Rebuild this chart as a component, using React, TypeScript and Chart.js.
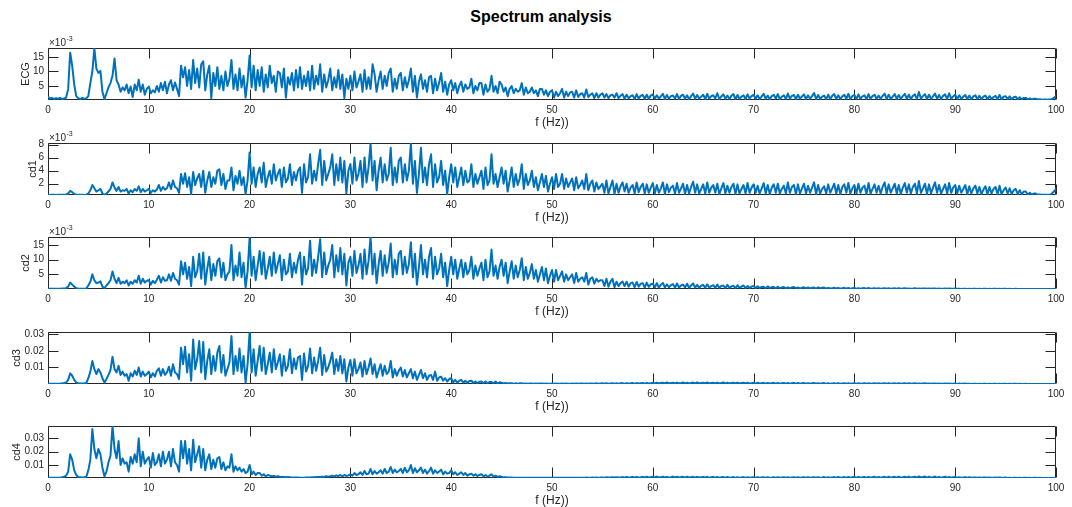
import React, { useEffect, useRef } from "react";
import { Chart, registerables } from "chart.js";

Chart.register(...registerables);

// Frequency bin spacing (Hz) of the stored spectra, bins run 0..100 Hz
const FREQ_STEP = 0.2;
const X_TICKS = [0, 10, 20, 30, 40, 50, 60, 70, 80, 90, 100];

// Spectral magnitudes, in units of 1e-3 (5 bins per Hz)
const ECG = [
  1.2,0.7,0.9,0.5,0.8, 0.6,0.9,0.5,0.7,1.0, 4.0,16.5,12.0,5.5,1.5, 0.8,0.5,0.9,0.6,0.7, 1.5,6.0,10.0,18.0,11.0,
  9.5,10.2,3.0,0.4,2.5, 4.5,6.0,8.5,14.5,7.0, 5.5,3.0,4.5,3.5,5.5, 2.5,4.8,1.2,5.5,3.5, 7.2,3.0,5.5,2.0,4.0,
  4.8,2.5,3.5,2.8,5.0, 3.0,6.0,3.5,6.5,2.5, 5.5,7.0,3.5,6.2,4.0, 1.5,12.0,8.0,11.5,5.0, 10.5,4.0,14.0,6.0,11.0,
  4.5,12.5,13.5,3.5,9.0, 12.0,0.8,9.5,5.0,11.5, 4.0,8.5,3.5,10.0,5.0, 7.5,14.0,4.0,9.0,3.5, 11.0,4.5,8.5,1.0,7.0,
  15.5,4.5,12.0,3.5,10.5, 5.0,11.5,3.0,9.0,4.5, 12.0,6.0,8.5,3.0,10.0, 9.5,4.5,11.0,1.0,8.0, 5.5,9.5,3.5,10.5,4.5,
  11.5,4.0,8.5,5.0,10.0, 3.5,12.0,4.0,8.5,5.5, 12.5,3.0,9.0,4.5,7.0, 11.0,3.5,8.0,4.5,10.5, 4.0,9.0,0.8,7.5,4.0,
  8.5,3.5,10.0,4.5,6.5, 9.0,3.0,10.5,4.0,8.0, 4.0,12.5,9.0,3.0,7.0, 10.0,4.0,8.5,5.0,9.5, 11.0,3.0,7.5,4.0,8.5,
  9.5,3.5,8.0,4.5,7.0, 11.0,3.0,8.5,1.0,6.5, 9.0,4.0,7.0,3.0,8.0, 8.5,2.5,7.5,3.5,6.0, 9.5,3.0,6.5,2.0,5.5,
  7.0,3.5,6.0,2.5,5.0, 6.5,3.0,5.5,4.0,4.5, 7.5,2.5,5.0,3.5,6.0, 6.0,2.0,5.5,3.0,4.0, 8.5,3.0,5.0,2.5,6.5,
  5.5,3.0,4.5,1.5,4.0, 5.0,2.5,4.0,3.0,3.5, 6.0,2.0,4.5,2.5,3.0, 4.5,2.5,3.5,1.5,4.0, 4.0,2.0,3.5,1.5,3.0,
  3.5,1.0,3.0,1.5,2.5, 4.0,1.0,3.0,1.5,2.8, 3.0,1.0,3.5,1.2,2.2, 2.5,1.0,3.8,1.2,2.0, 2.5,0.8,2.5,1.0,2.0,
  2.5,1.0,2.2,0.8,1.8, 2.0,1.0,2.5,0.8,1.6, 2.2,0.6,2.0,0.8,1.5, 1.8,0.5,2.2,0.7,1.6, 1.9,0.6,2.0,0.5,1.7,
  2.1,0.6,1.8,0.7,1.4, 2.3,0.5,1.9,0.6,1.5, 1.7,0.7,2.2,0.5,1.6, 2.0,0.6,1.8,0.4,1.5, 2.4,0.6,1.9,0.7,1.3,
  2.0,0.5,2.3,0.6,1.5, 1.8,0.7,2.5,0.5,1.4, 2.1,0.6,1.7,0.5,1.6, 2.2,0.4,1.9,0.6,1.3, 1.8,0.5,2.1,0.7,1.5,
  2.0,0.6,1.8,0.5,1.4, 2.3,0.6,1.7,0.4,1.5, 2.0,0.7,2.2,0.5,1.3, 1.8,0.5,2.4,0.6,1.6, 1.9,0.5,2.0,0.6,1.4,
  2.1,0.5,1.8,0.6,1.5, 2.6,0.5,1.9,0.6,1.3, 1.7,0.4,2.0,0.5,1.6, 2.2,0.6,1.8,0.5,1.4, 2.0,0.6,2.3,0.5,1.5,
  1.9,0.5,2.1,0.6,1.4, 1.8,0.4,2.2,0.6,1.5, 2.0,0.5,1.7,0.6,1.6, 2.4,0.5,2.0,0.6,1.3, 2.2,0.6,1.9,0.5,1.5,
  2.3,0.6,2.0,0.5,1.6, 2.1,0.5,2.9,0.6,1.5, 2.2,0.5,2.0,0.6,1.4, 2.4,0.6,1.9,0.5,1.6, 2.1,0.5,2.5,0.6,1.4,
  2.0,0.5,1.8,0.6,1.3, 1.9,0.5,1.7,0.4,1.4, 1.8,0.5,1.6,0.5,1.3, 1.7,0.4,1.5,0.5,1.2, 1.6,0.5,1.9,0.4,1.3,
  1.5,0.5,1.4,0.4,1.1, 1.3,0.4,1.1,0.4,0.9, 0.9,0.4,0.7,0.35,0.6, 0.6,0.35,0.4,0.3,0.35, 0.35,0.3,0.3,0.5,0.9,
  1.6,
];

const CD1 = [
  0.3,0.28,0.3,0.29,0.28, 0.3,0.29,0.32,0.3,0.35, 0.5,0.9,0.7,0.45,0.32, 0.3,0.29,0.3,0.28,0.32, 0.5,1.0,1.8,1.3,0.8,
  1.0,1.2,0.5,0.3,0.5, 0.8,1.2,2.2,1.4,0.9, 1.5,0.8,1.0,0.9,1.2, 0.5,1.0,0.7,1.2,0.9, 1.6,0.7,1.2,0.8,1.0,
  1.2,0.6,1.0,0.8,1.1, 1.8,0.9,1.5,1.1,1.3, 2.2,1.2,2.5,1.5,1.3, 0.6,3.5,2.0,3.6,1.5, 3.0,0.4,3.8,1.8,2.8,
  3.5,1.5,4.0,0.6,2.5, 3.8,1.5,3.0,2.0,4.0, 4.2,1.8,3.5,1.2,2.5, 2.5,4.5,1.0,3.2,2.0, 4.0,1.8,3.0,0.4,2.5,
  6.8,2.0,4.5,1.5,3.5, 4.5,2.2,5.2,1.5,3.0, 4.0,2.0,5.0,2.5,3.5, 4.2,1.5,4.5,2.2,2.8, 5.0,1.8,3.8,2.5,4.0,
  4.5,0.6,5.0,2.2,3.0, 6.5,2.0,4.0,2.5,5.0, 7.2,1.8,5.5,2.5,3.5, 4.5,6.5,1.8,5.0,2.5, 6.0,2.2,5.5,0.5,4.0,
  5.0,2.0,6.0,2.5,3.5, 5.5,1.5,6.0,2.2,4.5, 8.2,2.5,5.5,1.0,4.0, 6.0,2.2,5.0,2.5,3.5, 7.5,1.8,4.5,2.2,5.5,
  6.0,2.2,5.0,2.5,4.0, 8.2,2.0,5.5,0.6,3.5, 7.5,2.2,4.5,1.8,5.0, 6.5,1.5,5.0,2.2,3.0, 5.5,1.8,4.0,0.4,3.0,
  5.0,2.2,4.5,1.5,3.0, 4.5,1.8,4.0,2.2,2.5, 5.0,1.5,3.5,2.0,3.0, 4.0,1.2,4.5,1.8,2.5, 6.5,2.0,3.5,1.5,3.0,
  4.5,2.0,4.0,0.8,2.5, 4.5,1.5,3.5,1.8,2.8, 5.0,1.2,3.5,1.8,2.5, 4.0,1.5,3.0,1.0,2.2, 3.5,1.5,3.2,0.8,2.0,
  3.0,1.2,3.5,1.5,2.0, 3.5,1.2,2.8,1.5,2.2, 2.8,1.0,3.0,1.3,1.8, 2.5,1.2,3.5,1.0,2.0, 2.5,0.8,2.2,1.2,1.6,
  2.0,0.6,2.5,0.5,1.5, 2.5,0.4,2.0,0.6,1.6, 2.2,0.8,2.0,0.6,1.4, 1.8,0.5,2.2,0.7,1.5, 2.0,0.5,1.9,0.6,1.4,
  2.1,0.5,1.8,0.6,1.3, 2.2,0.4,1.9,0.7,1.4, 1.7,0.5,2.1,0.6,1.3, 2.0,0.4,1.8,0.5,1.5, 2.3,0.6,1.9,0.5,1.2,
  1.9,0.5,2.2,0.6,1.4, 1.8,0.6,2.0,0.4,1.3, 2.1,0.5,1.7,0.6,1.5, 2.0,0.4,1.9,0.5,1.2, 1.8,0.5,2.1,0.6,1.4,
  1.9,0.6,1.7,0.5,1.3, 2.1,0.5,1.8,0.4,1.4, 1.9,0.6,2.0,0.5,1.2, 1.7,0.5,2.2,0.6,1.5, 1.8,0.4,1.9,0.5,1.3,
  2.0,0.5,1.7,0.6,1.4, 2.2,0.4,1.8,0.5,1.2, 1.6,0.5,1.9,0.6,1.3, 2.0,0.5,1.8,0.4,1.5, 1.9,0.6,2.1,0.5,1.3,
  1.8,0.5,2.0,0.6,1.4, 1.7,0.4,2.1,0.5,1.2, 1.9,0.6,1.7,0.5,1.5, 2.2,0.5,1.9,0.6,1.3, 2.0,0.5,1.8,0.4,1.4,
  2.1,0.6,1.9,0.5,1.5, 2.0,0.5,2.4,0.6,1.3, 2.0,0.4,1.9,0.5,1.4, 2.2,0.6,1.8,0.5,1.2, 1.9,0.5,2.1,0.6,1.4,
  1.8,0.5,1.7,0.6,1.2, 1.8,0.4,1.6,0.5,1.3, 1.7,0.5,1.5,0.4,1.1, 1.6,0.4,1.5,0.5,1.2, 1.5,0.4,1.7,0.4,1.0,
  1.4,0.5,1.3,0.4,1.0, 1.2,0.4,1.0,0.4,0.8, 0.8,0.35,0.6,0.32,0.5, 0.5,0.3,0.35,0.3,0.3, 0.3,0.3,0.3,0.5,0.8,
  1.2,
];

const CD2 = [
  0.1,0.05,0.08,0.06,0.05, 0.08,0.1,0.15,0.2,0.3, 0.8,2.2,1.5,0.8,0.3, 0.15,0.1,0.1,0.12,0.2, 1.2,2.5,5.0,3.0,2.0,
  2.2,2.6,0.8,0.3,1.2, 2.0,3.0,6.0,3.5,2.0, 3.8,1.8,2.5,2.0,3.0, 1.2,2.5,1.8,3.0,2.2, 4.5,1.8,3.5,2.2,2.8,
  3.0,1.5,2.8,2.0,3.2, 4.5,2.2,4.0,2.8,3.0, 5.0,2.8,5.5,3.5,3.0, 1.5,9.5,5.0,9.0,3.5, 7.5,1.0,11.0,4.0,6.0,
  12.0,3.5,12.5,1.5,7.0, 11.0,3.0,8.5,4.5,9.5, 10.5,4.0,9.0,3.0,5.0, 6.0,15.0,3.0,8.0,4.5, 12.5,4.0,9.0,0.5,6.0,
  17.5,4.5,11.0,3.0,8.0, 13.0,5.0,12.5,3.5,7.0, 11.0,4.5,12.5,5.5,8.5, 11.5,3.0,10.0,5.0,6.0, 12.0,4.0,9.0,5.5,10.0,
  12.5,1.5,11.0,5.0,7.0, 16.5,4.5,10.0,5.5,11.0, 17.0,4.0,12.5,5.0,8.0, 10.0,15.0,4.0,11.5,6.0, 14.0,5.0,12.0,1.2,9.0,
  11.0,4.5,13.0,5.5,8.0, 12.0,3.5,13.5,5.0,9.5, 17.8,5.0,12.0,2.0,8.5, 13.0,4.5,11.5,5.5,9.0, 15.5,4.0,10.0,5.0,12.0,
  13.0,5.0,11.0,5.5,8.5, 16.0,4.0,12.0,1.5,7.5, 15.0,5.0,10.0,4.0,11.0, 14.0,3.5,11.0,5.0,7.0, 12.0,4.0,9.0,1.0,6.5,
  11.0,5.0,10.0,3.5,7.0, 10.0,4.0,9.0,5.0,6.5, 11.0,3.5,8.0,4.5,7.0, 9.0,3.0,10.0,4.0,6.0, 13.5,4.5,8.0,3.5,7.5,
  10.0,4.5,9.0,2.0,6.0, 9.5,3.5,8.0,4.0,6.5, 10.5,3.0,7.5,3.5,5.5, 8.5,3.5,6.5,2.5,5.0, 7.5,3.0,7.0,2.0,4.5,
  6.5,2.5,6.5,3.0,4.5, 6.0,2.5,5.0,3.0,4.0, 5.0,2.0,5.5,2.5,3.5, 4.0,2.5,5.5,1.5,3.5, 4.0,1.8,3.5,2.5,3.0,
  3.0,1.0,3.5,0.8,2.5, 3.5,0.6,2.5,1.0,2.0, 2.5,1.0,2.5,0.8,2.0, 2.2,0.6,2.4,0.8,1.8, 2.0,0.5,2.2,0.7,1.6,
  1.8,0.6,2.0,0.5,1.4, 2.1,0.5,1.6,0.6,1.3, 1.7,0.4,1.9,0.5,1.2, 1.5,0.5,1.8,0.4,1.2, 1.9,0.5,1.4,0.4,1.1,
  1.4,0.4,1.6,0.5,1.0, 1.3,0.4,1.5,0.4,1.0, 1.2,0.3,1.4,0.4,0.9, 1.1,0.3,1.3,0.4,0.8, 1.2,0.3,1.0,0.3,0.8,
  1.0,0.3,0.9,0.3,0.7, 0.8,0.25,0.9,0.3,0.6, 0.7,0.2,0.8,0.25,0.5, 0.7,0.2,0.6,0.2,0.5, 0.7,0.2,0.5,0.2,0.4,
  0.6,0.2,0.5,0.2,0.4, 0.5,0.15,0.6,0.2,0.4, 0.5,0.15,0.4,0.15,0.3, 0.45,0.15,0.4,0.1,0.3, 0.4,0.1,0.35,0.1,0.25,
  0.35,0.1,0.3,0.1,0.25, 0.3,0.1,0.35,0.1,0.2, 0.3,0.08,0.25,0.1,0.2, 0.3,0.08,0.25,0.08,0.2, 0.25,0.08,0.3,0.08,0.2,
  0.25,0.08,0.2,0.08,0.15, 0.25,0.06,0.2,0.06,0.15, 0.2,0.06,0.2,0.06,0.15, 0.18,0.05,0.2,0.05,0.12, 0.15,0.05,0.18,0.05,0.1,
  0.15,0.05,0.12,0.04,0.1, 0.12,0.04,0.1,0.04,0.08, 0.1,0.03,0.1,0.03,0.07, 0.08,0.03,0.08,0.03,0.06, 0.08,0.03,0.06,0.02,0.05,
  0.06,0.02,0.05,0.02,0.04, 0.05,0.02,0.04,0.02,0.03, 0.04,0.02,0.03,0.02,0.03, 0.03,0.02,0.03,0.02,0.02, 0.03,0.02,0.03,0.04,0.06,
  0.1,
];

const CD3 = [
  0.2,0.15,0.2,0.18,0.15, 0.2,0.25,0.4,0.6,0.9, 2.5,6.5,5.0,2.5,1.0, 0.4,0.3,0.3,0.4,0.6, 3.5,7.5,14.0,9.0,6.0,
  9.0,7.0,3.5,0.8,3.0, 5.5,8.5,16.5,9.0,7.0, 11.0,5.5,7.5,5.0,6.0, 2.0,6.5,4.5,8.0,5.5, 10.0,4.5,7.5,5.0,6.0,
  7.5,4.0,6.5,4.5,8.0, 9.5,5.0,9.0,5.5,7.0, 10.5,5.0,12.0,7.0,6.0, 3.0,22.0,12.0,22.5,7.0, 18.0,2.0,27.0,9.0,15.0,
  26.0,7.0,25.5,3.0,14.0, 21.0,6.0,17.0,8.0,19.0, 23.0,7.0,17.5,5.0,9.0, 13.0,29.0,6.0,17.0,8.0, 21.5,7.0,17.0,1.0,12.0,
  31.5,7.0,21.0,5.0,14.0, 23.0,8.0,22.0,6.0,12.0, 19.0,7.0,21.0,9.0,13.0, 18.0,5.0,17.0,8.0,11.0, 21.0,6.5,15.5,9.0,16.0,
  17.0,2.5,18.5,7.5,11.0, 21.5,6.5,16.0,8.0,14.0, 22.0,5.5,17.5,7.5,10.0, 14.0,19.0,6.0,15.0,8.0, 17.0,6.5,15.0,1.5,10.0,
  14.5,5.0,15.0,6.5,9.0, 13.0,4.5,14.0,6.0,10.0, 15.5,6.0,12.0,4.0,8.0, 12.0,5.0,11.0,6.0,7.5, 14.0,4.0,9.0,5.0,8.0,
  10.0,4.5,8.5,4.0,6.5, 9.0,3.5,7.5,2.5,5.5, 8.5,3.5,6.5,2.5,5.0, 5.5,2.5,7.5,2.0,4.0, 4.5,2.0,3.5,1.5,3.0,
  3.5,1.0,2.5,0.8,2.0, 2.5,0.8,2.0,0.6,1.8, 2.0,0.6,1.5,0.5,1.4, 1.5,0.5,1.5,0.4,1.2, 1.2,0.4,1.5,0.3,1.0,
  0.8,0.3,0.6,0.3,0.5, 0.5,0.2,0.45,0.2,0.4, 0.4,0.15,0.35,0.15,0.3, 0.3,0.15,0.3,0.12,0.25, 0.3,0.12,0.25,0.12,0.2,
  0.25,0.1,0.25,0.1,0.2, 0.25,0.1,0.3,0.1,0.2, 0.3,0.12,0.3,0.12,0.25, 0.35,0.12,0.3,0.15,0.25, 0.35,0.15,0.4,0.15,0.3,
  0.4,0.15,0.45,0.2,0.35, 0.5,0.2,0.45,0.2,0.4, 0.55,0.2,0.5,0.25,0.4, 0.6,0.2,0.55,0.25,0.45, 0.6,0.25,0.7,0.25,0.5,
  0.7,0.3,0.8,0.3,0.6, 0.75,0.3,0.9,0.3,0.6, 0.8,0.3,0.85,0.35,0.6, 0.9,0.3,0.8,0.35,0.65, 0.85,0.3,0.9,0.3,0.6,
  0.8,0.3,0.9,0.35,0.6, 0.8,0.3,0.85,0.3,0.6, 0.9,0.3,0.8,0.3,0.55, 0.75,0.3,0.85,0.3,0.55, 0.8,0.3,0.75,0.25,0.5,
  0.7,0.25,0.75,0.3,0.5, 0.7,0.25,0.65,0.25,0.5, 0.7,0.25,0.6,0.2,0.45, 0.65,0.25,0.6,0.2,0.45, 0.7,0.25,0.6,0.2,0.4,
  0.6,0.2,0.55,0.2,0.4, 0.6,0.2,0.5,0.2,0.4, 0.55,0.2,0.5,0.2,0.35, 0.5,0.15,0.55,0.2,0.35, 0.5,0.15,0.45,0.15,0.35,
  0.5,0.15,0.45,0.15,0.3, 0.5,0.15,0.4,0.15,0.3, 0.45,0.15,0.4,0.12,0.3, 0.45,0.15,0.4,0.12,0.3, 0.4,0.12,0.45,0.12,0.3,
  0.4,0.12,0.45,0.12,0.3, 0.4,0.12,0.35,0.1,0.25, 0.4,0.12,0.35,0.1,0.25, 0.35,0.1,0.3,0.1,0.2, 0.3,0.1,0.3,0.08,0.2,
  0.3,0.08,0.25,0.08,0.18, 0.25,0.08,0.2,0.06,0.15, 0.2,0.06,0.2,0.06,0.14, 0.18,0.05,0.15,0.05,0.12, 0.15,0.05,0.12,0.05,0.1,
  0.12,0.04,0.1,0.04,0.08, 0.1,0.03,0.08,0.03,0.06, 0.08,0.03,0.06,0.03,0.05, 0.05,0.02,0.05,0.02,0.04, 0.04,0.02,0.04,0.03,0.04,
  0.05,
];

const CD4 = [
  0.5,0.4,0.5,0.45,0.4, 0.5,0.6,0.8,1.2,2.0, 5.0,18.0,14.0,6.0,2.5, 1.0,0.8,0.6,0.8,1.2, 6.0,14.0,37.0,22.0,15.0,
  22.0,18.0,8.0,1.5,5.0, 12.0,17.0,39.0,22.0,15.0, 28.0,10.0,15.0,11.0,12.0, 5.0,16.0,11.0,18.0,12.0, 30.0,9.0,20.0,11.0,14.0,
  16.0,8.0,19.0,10.0,12.0, 18.0,9.0,20.0,11.0,14.0, 20.0,9.0,22.0,12.0,10.0, 5.0,28.0,15.0,28.0,11.0, 22.0,6.0,29.0,12.0,18.0,
  24.0,8.0,22.0,6.0,14.0, 18.0,7.0,14.0,8.0,15.0, 16.0,7.0,12.0,6.0,9.0, 8.0,18.0,5.0,9.0,6.0, 8.0,5.0,7.0,4.0,5.0,
  10.0,3.0,5.0,2.5,4.0, 4.0,2.0,3.0,1.5,2.5, 2.0,1.5,1.8,1.2,1.5, 1.2,1.0,1.0,0.8,0.9, 0.8,0.7,0.6,0.6,0.55,
  0.5,0.5,0.5,0.55,0.6, 0.7,0.8,0.8,0.9,1.0, 1.0,1.2,1.0,1.5,1.2, 1.5,2.0,1.2,2.2,1.6, 2.5,1.5,2.5,1.8,2.2,
  3.0,2.0,4.0,2.5,3.0, 4.5,2.5,5.5,3.0,3.5, 7.0,3.0,5.5,3.5,4.5, 6.0,3.5,7.0,4.0,5.0, 8.5,4.0,6.5,4.5,5.5,
  7.0,4.0,8.0,4.5,6.0, 10.0,4.0,7.5,4.5,6.0, 8.0,4.0,6.5,3.5,5.5, 8.0,3.5,6.0,4.0,5.0, 6.5,3.0,5.0,3.5,4.0,
  6.0,3.0,4.5,2.5,3.5, 4.5,2.5,4.0,2.0,3.0, 3.5,2.0,3.0,1.8,2.5, 3.0,1.5,2.5,1.3,2.0, 3.0,1.2,2.0,1.0,1.5,
  1.2,0.7,0.9,0.6,0.7, 0.6,0.5,0.5,0.45,0.5, 0.45,0.4,0.4,0.4,0.4, 0.4,0.35,0.4,0.35,0.35, 0.35,0.35,0.35,0.35,0.35,
  0.35,0.35,0.4,0.35,0.38, 0.4,0.35,0.4,0.4,0.4, 0.45,0.4,0.5,0.4,0.45, 0.5,0.45,0.55,0.45,0.5, 0.6,0.5,0.65,0.5,0.55,
  0.7,0.5,0.75,0.55,0.6, 0.8,0.55,0.85,0.6,0.7, 0.9,0.6,0.95,0.6,0.75, 1.0,0.6,1.1,0.65,0.8, 1.0,0.6,1.2,0.6,0.85,
  1.1,0.6,1.3,0.6,0.9, 1.2,0.6,1.1,0.6,0.85, 1.3,0.6,1.2,0.6,0.9, 1.1,0.55,1.2,0.6,0.85, 1.1,0.55,1.0,0.55,0.8,
  1.0,0.55,1.1,0.5,0.8, 0.95,0.5,1.0,0.5,0.75, 0.9,0.5,0.95,0.5,0.7, 0.9,0.5,0.85,0.5,0.7, 0.9,0.45,0.85,0.45,0.65,
  0.8,0.45,0.85,0.45,0.65, 0.8,0.45,0.75,0.45,0.6, 0.8,0.45,0.75,0.4,0.6, 0.8,0.45,0.75,0.4,0.6, 0.8,0.4,0.75,0.4,0.6,
  0.8,0.45,0.85,0.45,0.65, 0.8,0.4,0.85,0.45,0.65, 0.9,0.45,0.85,0.45,0.7, 0.9,0.45,0.95,0.5,0.7, 0.9,0.45,1.0,0.5,0.75,
  0.95,0.5,1.0,0.5,0.75, 1.0,0.5,1.05,0.5,0.8, 1.1,0.5,1.0,0.5,0.8, 1.1,0.55,1.2,0.5,0.85, 1.1,0.5,1.2,0.55,0.85,
  1.2,0.55,1.3,0.55,0.9, 1.2,0.55,1.4,0.6,0.95, 1.3,0.55,1.2,0.55,0.9, 1.3,0.55,1.1,0.5,0.85, 1.2,0.5,1.0,0.5,0.8,
  0.9,0.45,0.85,0.45,0.7, 0.8,0.4,0.75,0.4,0.6, 0.7,0.4,0.7,0.4,0.55, 0.65,0.35,0.6,0.35,0.5, 0.6,0.35,0.55,0.35,0.45,
  0.55,0.3,0.5,0.3,0.4, 0.5,0.3,0.45,0.3,0.38, 0.45,0.28,0.4,0.28,0.35, 0.4,0.26,0.35,0.25,0.3, 0.3,0.25,0.3,0.25,0.28,
  0.3,
];

// Y-axis tick values (real units)
const ECG_TICKS = [0.005, 0.01, 0.015];
const CD1_TICKS = [0.002, 0.004, 0.006, 0.008];
const CD2_TICKS = [0.005, 0.01, 0.015];
const CD3_TICKS = [0.01, 0.02, 0.03];
const CD4_TICKS = [0.01, 0.02, 0.03];

const TITLE = "Spectrum analysis";
const X_LABEL = "f (Hz))";

const FONT = "'Liberation Sans', Arial, Helvetica, sans-serif";
const AXIS_COLOR = "#262626";
const LINE_COLOR = "#0072BD";

type PanelCfg = {
  label: string;
  values: number[];
  ticks: number[];
  min: number;
  max: number;
  exponent: boolean;
  top: number;
  yTitlePad: number;
};

const PANELS: PanelCfg[] = [
  { label: "ECG", values: ECG, ticks: ECG_TICKS, min: 0.00017, max: 0.0181, exponent: true, top: 48, yTitlePad: 19 },
  { label: "cd1", values: CD1, ticks: CD1_TICKS, min: 0.00027, max: 0.00824, exponent: true, top: 143, yTitlePad: 26 },
  { label: "cd2", values: CD2, ticks: CD2_TICKS, min: 0, max: 0.01776, exponent: true, top: 237, yTitlePad: 19 },
  { label: "cd3", values: CD3, ticks: CD3_TICKS, min: 0, max: 0.0315, exponent: false, top: 332, yTitlePad: 10 },
  { label: "cd4", values: CD4, ticks: CD4_TICKS, min: 0.00023, max: 0.0393, exponent: false, top: 426, yTitlePad: 10 },
];

const PAD_TOP = 20;
const PLOT_H = 52;
const XAXIS_H = 34;
const CANVAS_W = 1072;
const CANVAS_H = PAD_TOP + PLOT_H + XAXIS_H;

function makeAxesPlugin(cfg: PanelCfg) {
  return {
    id: "matlabAxes",
    beforeDatasetsDraw(chart: any) {
      const { ctx, chartArea: a, scales } = chart;
      const xs = scales.x;
      const ys = scales.y;
      const L = Math.round(a.left) + 0.5;
      const R = Math.round(a.right) - 0.5;
      const T = Math.round(a.top) + 0.5;
      const B = Math.round(a.bottom) - 0.5;
      const TL = 10;
      ctx.save();
      ctx.strokeStyle = AXIS_COLOR;
      ctx.lineWidth = 1;
      ctx.beginPath();
      ctx.moveTo(L, T);
      ctx.lineTo(R, T);
      ctx.lineTo(R, B);
      ctx.lineTo(L, B);
      ctx.closePath();
      for (const t of xs.ticks) {
        const px = Math.round(xs.getPixelForValue(t.value)) + 0.5;
        ctx.moveTo(px, B);
        ctx.lineTo(px, B - TL);
        ctx.moveTo(px, T);
        ctx.lineTo(px, T + TL);
      }
      for (const t of ys.ticks) {
        const py = Math.round(ys.getPixelForValue(t.value)) + 0.5;
        ctx.moveTo(L, py);
        ctx.lineTo(L + TL, py);
        ctx.moveTo(R, py);
        ctx.lineTo(R - TL, py);
      }
      ctx.stroke();
      if (cfg.exponent) {
        ctx.fillStyle = AXIS_COLOR;
        ctx.textBaseline = "alphabetic";
        ctx.textAlign = "left";
        ctx.font = `10px ${FONT}`;
        const base = a.top - 2;
        ctx.fillText("\u00d710", a.left + 1, base);
        const w = ctx.measureText("\u00d710").width;
        ctx.font = `7px ${FONT}`;
        ctx.fillText("-3", a.left + 1 + w + 0.5, base - 5);
      }
      ctx.restore();
    },
  };
}

function Panel({ cfg }: { cfg: PanelCfg }) {
  const ref = useRef<HTMLCanvasElement>(null);
  useEffect(() => {
    const canvas = ref.current;
    if (!canvas) return;
    const data = cfg.values.map((v, i) => ({ x: i * FREQ_STEP, y: v * 1e-3 }));
    const chart = new Chart(canvas, {
      type: "line",
      data: {
        datasets: [
          {
            label: cfg.label,
            data,
            borderColor: LINE_COLOR,
            borderWidth: 2,
            borderJoinStyle: "round",
            borderCapStyle: "round",
            pointRadius: 0,
            tension: 0,
            fill: false,
          },
        ],
      },
      options: {
        responsive: false,
        animation: false,
        devicePixelRatio: 1,
        events: [],
        layout: { padding: { top: PAD_TOP, left: 0, right: CANVAS_W - 1056, bottom: 0 } },
        plugins: { legend: { display: false }, tooltip: { enabled: false }, title: { display: false } },
        scales: {
          x: {
            type: "linear",
            min: 0,
            max: 100,
            afterBuildTicks: (s: any) => {
              s.ticks = X_TICKS.map((v) => ({ value: v }));
            },
            afterFit: (s: any) => {
              s.height = XAXIS_H;
            },
            grid: { display: false, drawTicks: false, drawOnChartArea: false },
            border: { display: false },
            ticks: {
              autoSkip: false,
              maxRotation: 0,
              padding: 4,
              color: AXIS_COLOR,
              font: { family: FONT, size: 10 },
              callback: (v: any) => String(v),
            },
            title: {
              display: true,
              text: X_LABEL,
              color: AXIS_COLOR,
              font: { family: FONT, size: 12 },
              padding: { top: 0, bottom: 3.8 },
            },
          },
          y: {
            type: "linear",
            min: cfg.min,
            max: cfg.max,
            afterBuildTicks: (s: any) => {
              s.ticks = cfg.ticks.map((v) => ({ value: v }));
            },
            afterFit: (s: any) => {
              s.width = 48;
            },
            grid: { display: false, drawTicks: false, drawOnChartArea: false },
            border: { display: false },
            ticks: {
              autoSkip: false,
              padding: 4,
              color: AXIS_COLOR,
              font: { family: FONT, size: 10 },
              callback: (v: any) =>
                cfg.exponent ? String(Math.round(Number(v) * 1000)) : Number(v).toFixed(2),
            },
            title: {
              display: true,
              text: cfg.label,
              color: AXIS_COLOR,
              font: { family: FONT, size: 11 },
              padding: { top: cfg.yTitlePad, bottom: 0 },
            },
          },
        },
      },
      plugins: [makeAxesPlugin(cfg)],
    } as any);
    return () => chart.destroy();
  }, [cfg]);
  return (
    <canvas
      ref={ref}
      width={CANVAS_W}
      height={CANVAS_H}
      style={{ position: "absolute", left: 0, top: cfg.top - PAD_TOP, width: CANVAS_W, height: CANVAS_H, display: "block" }}
    />
  );
}

export default function App() {
  return (
    <div style={{ position: "absolute", left: 0, top: 0, width: 1072, height: 507, background: "#ffffff", overflow: "hidden" }}>
      <div
        style={{
          position: "absolute",
          left: 0,
          top: 8,
          width: 1082,
          textAlign: "center",
          fontFamily: FONT,
          fontWeight: "bold",
          fontSize: 16,
          lineHeight: "18px",
          color: "#000000",
        }}
      >
        {TITLE}
      </div>
      {PANELS.map((p) => (
        <Panel key={p.label} cfg={p} />
      ))}
    </div>
  );
}
